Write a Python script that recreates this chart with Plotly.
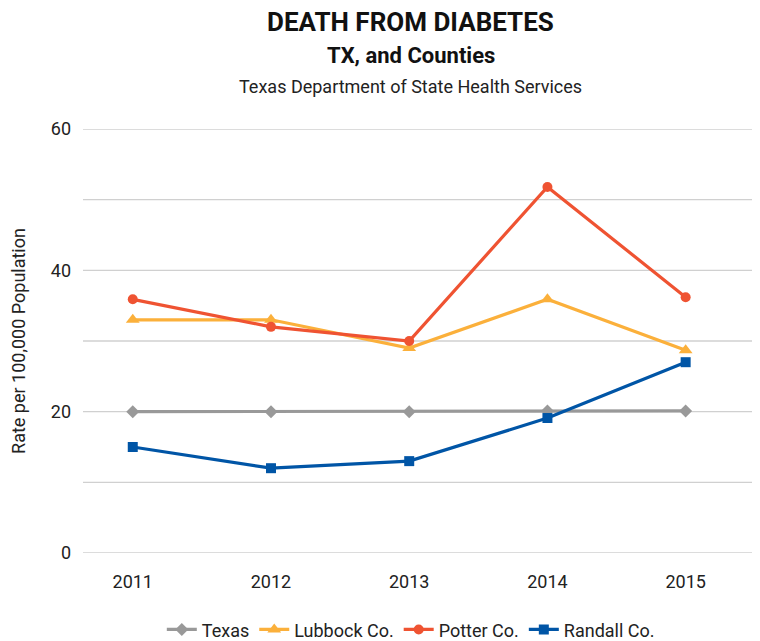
import plotly.graph_objects as go

years = ["2011", "2012", "2013", "2014", "2015"]
texas = [20.0, 20.0, 20.0, 20.1, 20.1]
lubbock = [33.0, 33.0, 29.0, 35.9, 28.7]
potter = [35.9, 32.0, 30.0, 51.8, 36.2]
randall = [15.0, 12.0, 13.0, 19.1, 27.0]

series = [
    ("Texas", texas, "#999999", "diamond", 10),
    ("Lubbock Co.", lubbock, "#FBB03B", "triangle-up", 12),
    ("Potter Co.", potter, "#EF5332", "circle", 10),
    ("Randall Co.", randall, "#0055A6", "square", 10),
]

fig = go.Figure()
for name, vals, color, sym, msize in series:
    fig.add_trace(go.Scatter(
        x=years, y=vals, name=name, mode="lines+markers",
        line=dict(color=color, width=3.2),
        marker=dict(symbol=sym, size=msize, color=color),
    ))

font = "Roboto, Arial, sans-serif"
fig.update_layout(
    width=760, height=641,
    margin=dict(l=75, r=16, t=121, b=96, autoexpand=False),
    plot_bgcolor="white", paper_bgcolor="white",
    font=dict(family=font, size=18, color="#222222"),
    showlegend=True,
    legend=dict(orientation="h", x=0.49, xanchor="center", yref="container", y=0.03,
                yanchor="middle", font=dict(size=18, color="#222222"), tracegroupgap=0,
                itemwidth=30),
    xaxis=dict(type="category", range=[-0.36, 4.48], showgrid=False, zeroline=False,
               showline=False, ticks="", tickfont=dict(size=18), ticklabelstandoff=16,
               automargin=False),
    yaxis=dict(range=[0, 60], tickvals=[0, 20, 40, 60], showgrid=False, zeroline=False,
               showline=False, ticks="", tickfont=dict(size=18), ticklabelstandoff=11,
               automargin=False,
               title=dict(text="Rate per 100,000 Population", font=dict(size=18), standoff=32)),
    annotations=[
        dict(text="<b>DEATH FROM DIABETES</b>", xref="paper", yref="paper", x=0.49, y=1.0,
             yshift=107, xanchor="center", yanchor="middle", showarrow=False,
             font=dict(size=26, color="#111111", family=font)),
        dict(text="<b>TX, and Counties</b>", xref="paper", yref="paper", x=0.49, y=1.0,
             yshift=74, xanchor="center", yanchor="middle", showarrow=False,
             font=dict(size=22, color="#111111", family=font)),
        dict(text="Texas Department of State Health Services", xref="paper", yref="paper",
             x=0.49, y=1.0, yshift=43, xanchor="center", yanchor="middle", showarrow=False,
             font=dict(size=18, color="#222222", family=font)),
    ],
)
for v in [0, 10, 20, 30, 40, 50, 60]:
    fig.add_hline(y=v, line=dict(color="#D0D0D0", width=1.3), layer="below")

fig.write_html("out.html")
